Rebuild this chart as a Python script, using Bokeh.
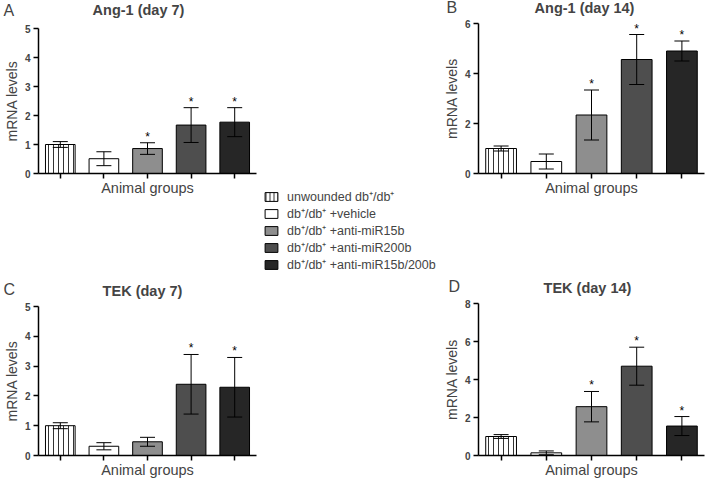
from bokeh.plotting import figure
from bokeh.models import (ColumnDataSource, FactorRange, Range1d, FixedTicker, Whisker,
                          TeeHead, Label, Legend, LegendItem, Spacer)
from bokeh.layouts import row, column
from bokeh.embed import file_html
from bokeh.resources import INLINE
from bokeh.core.properties import value

FONT = "Liberation Sans"

groups = ["unwounded db\u207a/db\u207a", "db\u207a/db\u207a +vehicle", "db\u207a/db\u207a +anti-miR15b",
          "db\u207a/db\u207a +anti-miR200b", "db\u207a/db\u207a +anti-miR15b/200b"]
colors = ["#ffffff", "#ffffff", "#8e8e8e", "#4e4e4e", "#262626"]
hatches = ["|", " ", " ", " ", " "]

ang1_d7_mean = [1.0, 0.51, 0.86, 1.67, 1.77]
ang1_d7_err = [0.10, 0.24, 0.20, 0.60, 0.50]
ang1_d7_sig = [False, False, True, True, True]

ang1_d14_mean = [1.0, 0.48, 2.34, 4.56, 4.90]
ang1_d14_err = [0.10, 0.30, 1.00, 1.00, 0.40]
ang1_d14_sig = [False, False, True, True, True]

tek_d7_mean = [1.0, 0.31, 0.46, 2.39, 2.29]
tek_d7_err = [0.10, 0.12, 0.15, 1.00, 1.00]
tek_d7_sig = [False, False, False, True, True]

tek_d14_mean = [1.0, 0.14, 2.57, 4.70, 1.55]
tek_d14_err = [0.10, 0.10, 0.80, 1.00, 0.50]
tek_d14_sig = [False, False, True, True, True]

ang1_d7_ticks = [0, 1, 2, 3, 4, 5]
ang1_d14_ticks = [0, 2, 4, 6]
tek_d7_ticks = [0, 1, 2, 3, 4, 5]
tek_d14_ticks = [0, 2, 4, 6, 8]

YFIX = 8  # observed vertical offset of alphabetic-baseline labels


def strip(title, letter, w, h, title_xy, letter_xy):
    s = figure(width=w, height=h, x_range=Range1d(0, 1), y_range=Range1d(0, 1),
               toolbar_location=None, output_backend="svg", min_border=0,
               x_axis_type=None, y_axis_type=None)
    s.outline_line_color = None
    s.add_layout(Label(x=title_xy[0], y=title_xy[1] + YFIX, x_units="screen", y_units="screen",
                       text=title, text_font=FONT, text_font_size="14.5px",
                       text_font_style="bold", text_align="center",
                       text_baseline="alphabetic"))
    s.add_layout(Label(x=letter_xy[0], y=letter_xy[1] + YFIX, x_units="screen", y_units="screen",
                       text=letter, text_font=FONT, text_font_size="16px",
                       text_align="left", text_baseline="alphabetic"))
    return s


def panel(means, errs, sig, ticks, w, h, bl, br, bt, bb):
    up = [m + e for m, e in zip(means, errs)]
    lo = [m - e for m, e in zip(means, errs)]
    src = ColumnDataSource(dict(g=groups, m=means, up=up, lo=lo, color=colors, hatch=hatches))
    p = figure(x_range=FactorRange(*groups, range_padding=0), y_range=Range1d(0, ticks[-1]),
               width=w, height=h, min_border_left=bl, min_border_right=br,
               min_border_top=bt, min_border_bottom=bb, output_backend="svg",
               toolbar_location=None)
    p.outline_line_color = None
    p.grid.visible = False
    p.vbar(x="g", top="m", width=0.68, source=src, fill_color="color",
           line_color="black", line_width=1, hatch_pattern="hatch",
           hatch_color="#333333", hatch_scale=5, hatch_weight=1)
    wk = Whisker(source=src, base="g", upper="up", lower="lo", line_color="black", line_width=1,
                 upper_head=TeeHead(size=15, line_color="black", line_width=1),
                 lower_head=TeeHead(size=15, line_color="black", line_width=1), level="overlay")
    p.add_layout(wk)
    sg = [g for g, s in zip(groups, sig) if s]
    sy = [u for u, s in zip(up, sig) if s]
    p.text(x=sg, y=sy, text=["*"] * len(sg), text_align="center", text_baseline="bottom",
           text_font=value(FONT), text_font_size="12px", text_color="black", y_offset=1)

    xa = p.xaxis[0]
    xa.axis_label = "Animal groups"
    xa.axis_label_text_font = FONT
    xa.axis_label_text_font_size = "14.5px"
    xa.axis_label_text_font_style = "normal"
    xa.axis_label_standoff = 1
    xa.major_label_text_font_size = "1px"
    xa.major_label_text_color = None
    xa.major_label_standoff = 0
    xa.major_tick_out = 5
    xa.major_tick_in = 0
    xa.axis_line_width = 1.5
    xa.major_tick_line_width = 1.5
    xa.minor_tick_line_color = None

    ya = p.yaxis[0]
    ya.ticker = FixedTicker(ticks=ticks)
    ya.axis_label = "mRNA levels"
    ya.axis_label_text_font = FONT
    ya.axis_label_text_font_size = "14px"
    ya.axis_label_text_font_style = "normal"
    ya.axis_label_standoff = 2
    ya.major_label_text_font = FONT
    ya.major_label_text_font_size = "10px"
    ya.major_label_text_font_style = "bold"
    ya.major_label_standoff = 3
    ya.major_tick_out = 5
    ya.major_tick_in = 0
    ya.minor_tick_line_color = None
    ya.axis_line_width = 1.5
    ya.major_tick_line_width = 1.5
    return p, src


# column 1 (x 0..263)
sA = strip("Ang-1 (day 7)", "A", 263, 21, (138, 4), (3, 3))
pA, srcA = panel(ang1_d7_mean, ang1_d7_err, ang1_d7_sig, ang1_d7_ticks, 263, 219, 35, 7, 7, 67)
sC = strip("TEK (day 7)", "C", 263, 61, (142, 3), (3, 4))
pC, _ = panel(tek_d7_mean, tek_d7_err, tek_d7_sig, tek_d7_ticks, 263, 179, 35, 3, 5, 25)

# column 3 (x 440..709)
sB = strip("Ang-1 (day 14)", "B", 269, 18, (144, 3), (6, 3))
pB, _ = panel(ang1_d14_mean, ang1_d14_err, ang1_d14_sig, ang1_d14_ticks, 269, 222, 37, 5, 5, 67)
sD = strip("TEK (day 14)", "D", 269, 57, (147, 2), (8, 3))
pD, _ = panel(tek_d14_mean, tek_d14_err, tek_d14_sig, tek_d14_ticks, 269, 183, 38, 3, 6, 25)

# legend (x 263..440)
pL = figure(width=177, height=95, x_range=FactorRange(*groups), y_range=Range1d(-2, -1),
            toolbar_location=None, output_backend="svg", min_border=0,
            x_axis_type=None, y_axis_type=None)
pL.outline_line_color = None
pL.grid.visible = False
rL = pL.vbar(x="g", top="m", width=0.68, source=srcA, fill_color="color", line_color="black",
             line_width=1, hatch_pattern="hatch", hatch_color="#333333", hatch_scale=4,
             hatch_weight=1)
rL.visible = False
items = [LegendItem(label=g, renderers=[rL], index=i) for i, g in enumerate(groups)]
leg = Legend(items=items, location="top_left", padding=0, margin=0, spacing=0,
             glyph_width=16, glyph_height=11, label_height=11, label_standoff=8,
             label_text_font=FONT, label_text_font_size="12.5px",
             border_line_color=None, background_fill_alpha=0)
pL.add_layout(leg)

col1 = column(row(sA), pA, row(sC), pC)
col2 = column(Spacer(width=177, height=188), pL)
col3 = column(row(sB), pB, row(sD), pD)
root = row(col1, col2, col3)

open("out.html", "w").write(file_html(root, INLINE))
